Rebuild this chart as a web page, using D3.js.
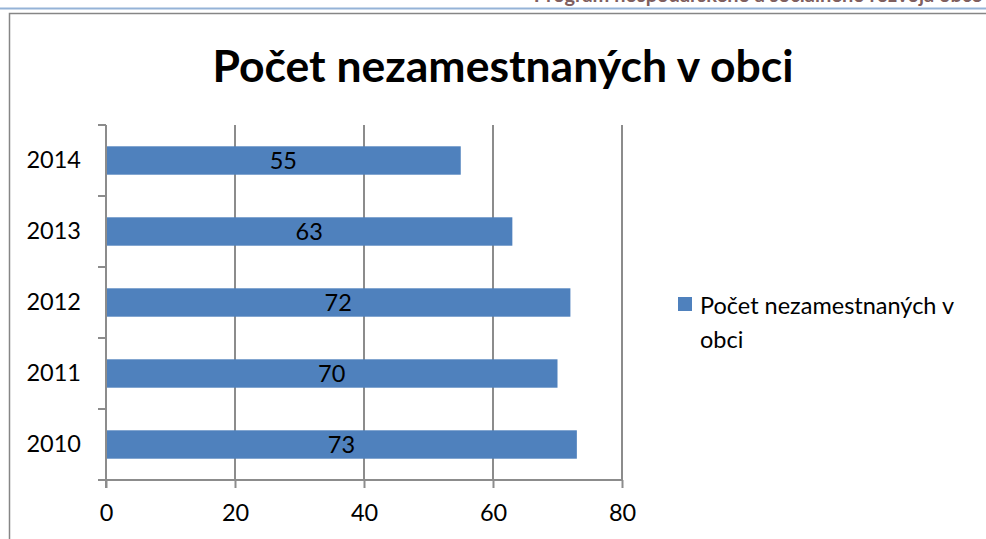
<!DOCTYPE html>
<html>
<head>
    <meta charset="utf-8">
    <title>Počet nezamestnaných v obci</title>
    <style>
        body {
            margin: 0;
            background: #fff;
            font-family: Lato, "Open Sans", sans-serif;
        }
        svg text {
            fill: #000;
        }
    </style>
    <script src="https://d3js.org/d3.v7.min.js"></script>
</head>
<body>
<div id="chart"></div>
<script>
    // data
    const years = ['2010', '2011', '2012', '2013', '2014'];
    const unemployed = [73, 70, 72, 63, 55];
    const xTicks = [0, 20, 40, 60, 80];
    const seriesName = 'Počet nezamestnaných v obci';

    const width = 986, height = 539;
    const plot = { left: 106, right: 622, top: 125, bottom: 480 };
    const fs = '23.5px';

    const svg = d3.select('#chart').append('svg')
            .attr('width', width)
            .attr('height', height);

    // page header (cut off at the top, as in the document)
    svg.append('text')
            .attr('x', 982)
            .attr('y', 1.5)
            .attr('text-anchor', 'end')
            .style('font-size', '20px')
            .style('font-weight', 'bold')
            .style('fill', '#7f5f5f')
            .text('Program hospodárskeho a sociálneho rozvoja obce');

    svg.append('line')
            .attr('x1', 0).attr('x2', width)
            .attr('y1', 8.5).attr('y2', 8.5)
            .style('stroke', '#95b3d7')
            .style('stroke-width', 2);

    // chart frame (right and bottom edges fall outside the page)
    svg.append('rect')
            .attr('x', 9.5).attr('y', 13.5)
            .attr('width', 1100).attr('height', 600)
            .style('fill', 'none')
            .style('stroke', '#868686')
            .style('stroke-width', 1.5);

    svg.append('text')
            .attr('x', 503)
            .attr('y', 82)
            .attr('text-anchor', 'middle')
            .style('font-size', '44.5px')
            .style('font-weight', 'bold')
            .text(seriesName);

    const x = d3.scaleLinear()
            .domain([0, 80])
            .range([plot.left, plot.right]);

    // 2010 at the bottom like Excel
    const y = d3.scaleBand()
            .domain(years.slice().reverse())
            .range([plot.top, plot.bottom])
            .paddingInner(0.6)
            .paddingOuter(0.3);

    const grid = '#8c8c8c';

    // vertical gridlines
    svg.append('g')
            .selectAll('line')
            .data(xTicks.filter(d => d > 0))
            .join('line')
            .attr('x1', d => x(d)).attr('x2', d => x(d))
            .attr('y1', plot.top).attr('y2', plot.bottom)
            .style('stroke', grid)
            .style('stroke-width', 2);

    // bars
    svg.append('g')
            .selectAll('rect')
            .data(years)
            .join('rect')
            .attr('x', x(0))
            .attr('y', d => y(d))
            .attr('width', (d, i) => x(unemployed[i]) - x(0))
            .attr('height', y.bandwidth())
            .style('fill', '#4f81bd');

    // value labels
    svg.append('g')
            .selectAll('text')
            .data(years)
            .join('text')
            .attr('x', (d, i) => (x(0) + x(unemployed[i])) / 2)
            .attr('y', d => y(d) + y.bandwidth() / 2 + 8.5)
            .attr('text-anchor', 'middle')
            .style('font-size', fs)
            .text((d, i) => unemployed[i]);

    // x axis
    const xAxis = svg.append('g')
            .attr('transform', `translate(0,${plot.bottom})`)
            .call(d3.axisBottom(x).tickValues(xTicks).tickSize(8).tickPadding(16).tickSizeOuter(0));

    // y axis, ticks between categories
    const yAxis = svg.append('g')
            .attr('transform', `translate(${plot.left},0)`)
            .call(d3.axisLeft(y).tickSize(0).tickPadding(25));

    const step = (plot.bottom - plot.top) / years.length;
    yAxis.selectAll('line.cat')
            .data(d3.range(years.length + 1))
            .join('line')
            .attr('class', 'cat')
            .attr('x1', -8).attr('x2', 0)
            .attr('y1', i => plot.top + i * step)
            .attr('y2', i => plot.top + i * step);

    [xAxis, yAxis].forEach(g => {
        g.selectAll('path, line')
                .style('stroke', grid)
                .style('stroke-width', 2);
        g.selectAll('text')
                .style('font-size', fs)
                .style('font-family', 'Lato, "Open Sans", sans-serif')
                .style('fill', '#000');
    });

    xAxis.select('.domain').remove();
    yAxis.select('.domain').remove();
    svg.append('line')
            .attr('x1', plot.left - 8).attr('x2', plot.right)
            .attr('y1', plot.bottom).attr('y2', plot.bottom)
            .style('stroke', grid).style('stroke-width', 2);
    svg.append('line')
            .attr('x1', plot.left).attr('x2', plot.left)
            .attr('y1', plot.top).attr('y2', plot.bottom + 8)
            .style('stroke', grid).style('stroke-width', 2);

    // legend
    const legend = svg.append('g').attr('transform', 'translate(678,297)');
    legend.append('rect')
            .attr('width', 14).attr('height', 14)
            .style('fill', '#4f81bd');
    legend.append('text')
            .attr('x', 22).attr('y', 17)
            .style('font-size', fs)
            .text('Počet nezamestnaných v');
    legend.append('text')
            .attr('x', 22).attr('y', 51)
            .style('font-size', fs)
            .text('obci');
</script>
</body>
</html>
